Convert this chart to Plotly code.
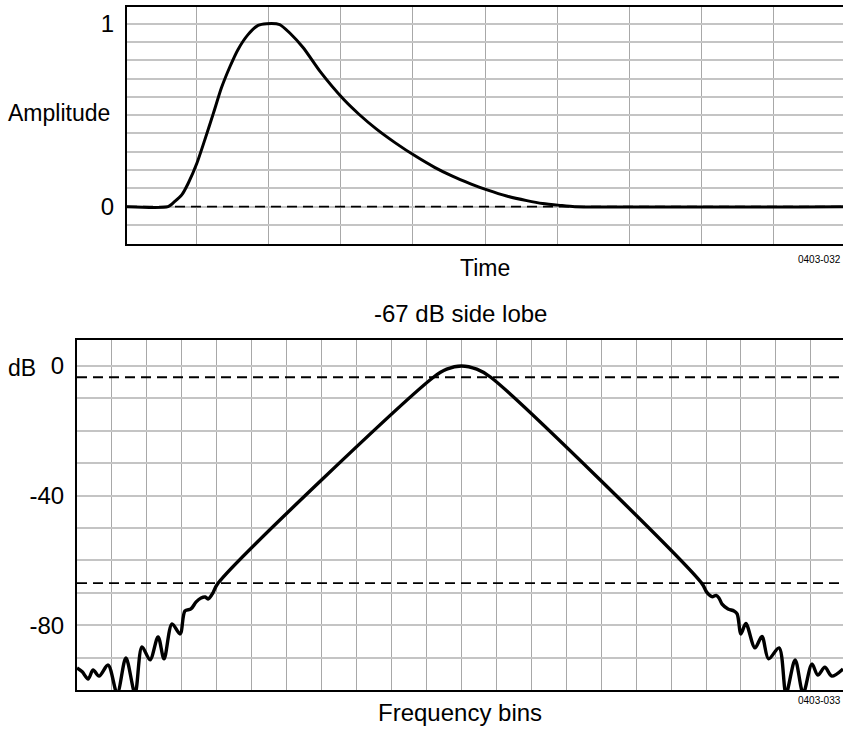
import plotly.graph_objects as go

# --- time-domain window (top panel) ---
time_units = [0.0, 0.60, 0.69, 0.79, 0.88, 1.0, 1.11, 1.23, 1.34, 1.46, 1.57, 1.71, 1.85, 1.97,
              2.15, 2.29, 2.48, 2.71, 3.04, 3.25, 3.49, 3.75, 4.04, 4.3, 4.54, 4.8, 5.04,
              5.3, 5.58, 5.8, 6.04, 6.25, 10.0]
amplitude = [0.0, 0.0, 0.027, 0.064, 0.128, 0.237, 0.365, 0.511, 0.648, 0.766, 0.858, 0.94, 0.991, 1.0,
             0.995, 0.949, 0.867, 0.739, 0.585, 0.505, 0.425, 0.35, 0.275, 0.215, 0.168, 0.125, 0.09,
             0.058, 0.033, 0.017, 0.007, 0.0, 0.0]

# --- frequency-domain response (bottom panel) ---
freq_bins = [0.0, 0.15, 0.32, 0.46, 0.63, 0.89, 1.15, 1.40, 1.66, 1.86, 2.09, 2.32, 2.49,
             2.72, 2.95, 3.09, 3.26, 3.41, 3.55, 3.67, 3.75, 3.87, 4.04,
             10.2, 10.58, 11.0, 11.44, 11.84,
             17.88, 18.02, 18.17, 18.29, 18.37, 18.46, 18.63, 18.80, 18.89, 19.00, 19.14,
             19.40, 19.60, 19.79, 20.09, 20.29, 20.55, 20.78, 21.03, 21.20, 21.40, 21.60, 21.92]
level_db = [-93.2, -94.4, -96.6, -93.8, -95.7, -92.3, -101, -90.1, -101, -86.7, -90.7, -83.6, -90.4,
            -79.6, -82.7, -75.6, -75.0, -72.8, -71.6, -71.3, -71.9, -70.4, -67.0,
            -3.5, -1.0, 0.0, -1.0, -3.5,
            -67.1, -69.8, -71.2, -70.8, -71.6, -73.5, -75.0, -75.6, -76.5, -82.7, -79.5,
            -87.0, -83.5, -90.4, -87.0, -101, -90.7, -101, -92.0, -95.4, -93.0, -95.7, -93.5]

amp_ticks = [-0.1, 0.0, 0.1, 0.2, 0.3, 0.4, 0.5, 0.6, 0.7, 0.8, 0.9, 1.0]
amp_labels = ["", "0", "", "", "", "", "", "", "", "", "", "1"]
db_ticks = [-100, -90, -80, -70, -60, -50, -40, -30, -20, -10, 0]
db_labels = ["", "", "-80", "", "", "", "-40", "", "", "", "0"]
zero_amp = 0.0
side_lobe_db = -67
half_power_db = -3.5

FONT = "Liberation Sans, Arial, Helvetica, sans-serif"
W, H = 843, 736

fig = go.Figure()

fig.add_trace(go.Scatter(x=time_units, y=amplitude, mode="lines", line_shape="spline",
                         line=dict(color="black", width=3, smoothing=0.6), xaxis="x", yaxis="y",
                         showlegend=False, hoverinfo="skip"))
fig.add_trace(go.Scatter(x=freq_bins, y=level_db, mode="lines", line_shape="spline",
                         line=dict(color="black", width=3.4, smoothing=0.9), xaxis="x2", yaxis="y2",
                         showlegend=False, hoverinfo="skip"))

# dashed reference lines (drawn above the grid; the black curve hides them where they meet)
dash = dict(color="black", width=1.8, dash="10px,6px")
for xr, yr, lvl in [("x domain", "y", zero_amp), ("x2 domain", "y2", half_power_db),
                    ("x2 domain", "y2", side_lobe_db)]:
    fig.add_shape(type="line", x0=0, x1=1, xref=xr, y0=lvl, y1=lvl, yref=yr,
                  line=dash, layer="above")

xgrid = dict(showgrid=True, gridcolor="#a8a8a8", gridwidth=1, dtick=1, tick0=0,
             showticklabels=False, zeroline=False, showline=True, linecolor="black",
             linewidth=2, mirror=True, ticks="")
ygrid = dict(showgrid=True, gridcolor="#c4c4c4", gridwidth=1.5, zeroline=False,
             showline=True, linecolor="black", linewidth=2, ticks="",
             ticklabelstandoff=6, tickfont=dict(family=FONT, size=24, color="black"))

fig.update_layout(
    width=W, height=H,
    margin=dict(l=0, r=0, t=0, b=0),
    paper_bgcolor="white", plot_bgcolor="white",
    font=dict(family=FONT, color="black"),
    xaxis=dict(domain=[127 / W, 1], range=[0.03, 9.97], anchor="y", **xgrid),
    yaxis=dict(domain=[1 - 244 / H, 1 - 7 / H], range=[-0.204, 1.091], anchor="x",
               tickvals=amp_ticks, ticktext=amp_labels, **ygrid),
    xaxis2=dict(domain=[77 / W, 1], range=[0, 21.92], anchor="y2", **xgrid),
    yaxis2=dict(domain=[1 - 690 / H, 1 - 340 / H], range=[-100, 8], anchor="x2",
                tickvals=db_ticks, ticktext=db_labels, **ygrid),
)

ann = dict(showarrow=False, font=dict(family=FONT, size=23, color="black"))
big = dict(showarrow=False, font=dict(family=FONT, size=24, color="black"))
small = dict(showarrow=False, font=dict(family=FONT, size=10, color="black"))
fig.add_annotation(text="Amplitude", xref="paper", x=6 / W, xanchor="left",
                   yref="y", y=0.51, yanchor="middle", **ann)
fig.add_annotation(text="Time", xref="x domain", x=0.5, yref="y domain", y=0,
                   yanchor="middle", yshift=-24, **ann)
fig.add_annotation(text="0403-032", xref="x domain", x=1, xanchor="right", yref="y domain",
                   y=0, yanchor="middle", yshift=-15, **small)
fig.add_annotation(text="-67 dB side lobe", xref="x2 domain", x=0.5, yref="y2 domain", y=1,
                   yanchor="middle", yshift=26, **big)
fig.add_annotation(text="dB", xref="paper", x=6 / W, xanchor="left", yref="y2", y=0,
                   yanchor="middle", yshift=-2, **ann)
fig.add_annotation(text="Frequency bins", xref="x2 domain", x=0.5, yref="y2 domain", y=0,
                   yanchor="middle", yshift=-22, **big)
fig.add_annotation(text="0403-033", xref="x2 domain", x=1, xanchor="right", yref="y2 domain",
                   y=0, yanchor="middle", yshift=-10, **small)

fig.write_html("out.html", config={"displayModeBar": False},
               post_script="document.body.style.margin='0';")
